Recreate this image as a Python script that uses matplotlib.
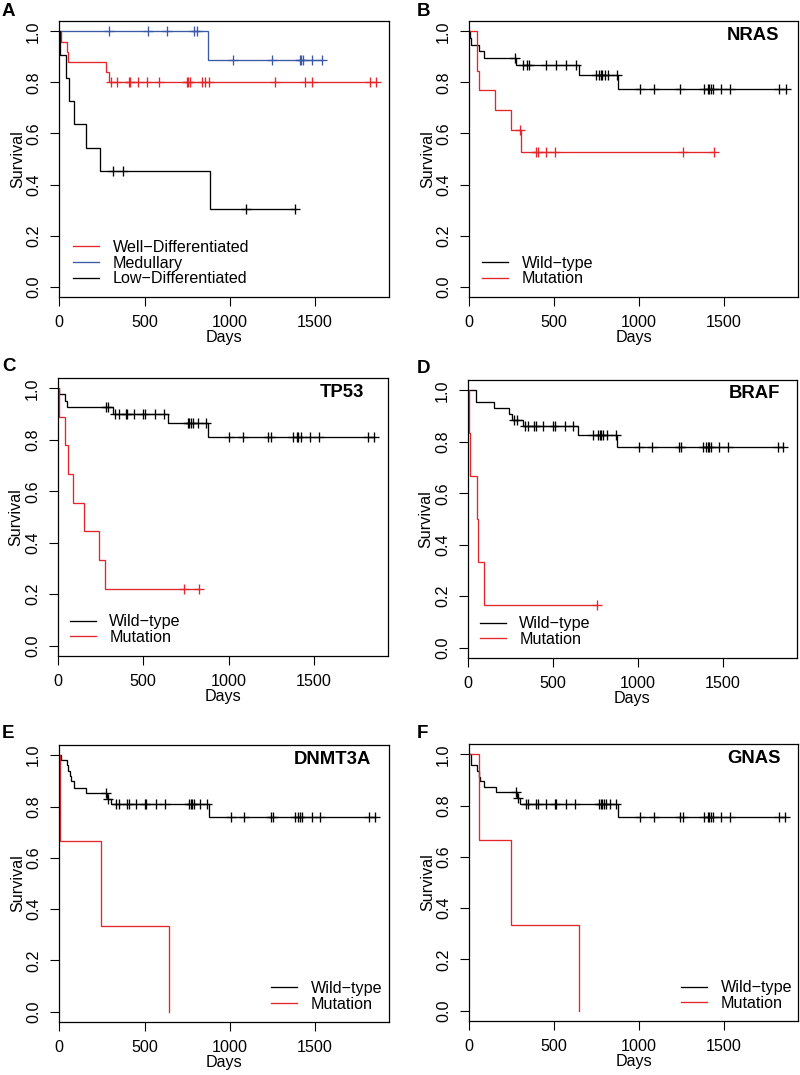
import numpy as np
import matplotlib
matplotlib.use("Agg")
import matplotlib.pyplot as plt
from matplotlib.lines import Line2D

plt.rcParams['font.family'] = ['Liberation Sans', 'DejaVu Sans']

RED = "#e3262b"
BLUE = "#3b5aa6"
BLACK = "#000000"

# ---------------- Panel A ----------------
A_well_t = [0, 8, 43, 52, 272, 291]
A_well_s = [1.0, 0.96, 0.92, 0.88, 0.84, 0.80]
A_well_cens = [303, 340, 407, 414, 463, 512, 582, 751, 757, 764, 835, 855, 878,
               1265, 1441, 1484, 1822, 1855]
A_well_end = 1855

A_med_t = [0, 874]
A_med_s = [1.0, 0.889]
A_med_cens = [291, 522, 633, 792, 806, 1017, 1249, 1411, 1419, 1427, 1484, 1542]
A_med_end = 1542

A_low_t = [0, 4, 39, 57, 86, 156, 237, 886]
A_low_s = [1.0, 0.909, 0.818, 0.727, 0.636, 0.545, 0.455, 0.303]
A_low_cens = [317, 371, 1093, 1384]
A_low_end = 1384

A_labels = ["Well\u2212Differentiated", "Medullary", "Low\u2212Differentiated"]

# ---------------- Panel B (NRAS) ----------------
B_wt_t = [0, 5, 10, 60, 88, 274, 643, 878]
B_wt_s = [1.0, 0.974, 0.947, 0.921, 0.895, 0.868, 0.830, 0.774]
B_wt_cens = [272, 317, 340, 352, 454, 512, 571, 626, 743, 761, 773, 782, 796, 816,
             868, 1007, 1085, 1242, 1379, 1402, 1412, 1422, 1436, 1484, 1535, 1823, 1862]
B_wt_end = 1862
B_mut_t = [0, 45, 59, 151, 245, 303]
B_mut_s = [1.0, 0.846, 0.769, 0.692, 0.615, 0.527]
B_mut_cens = [298, 395, 405, 454, 503, 1260, 1441]
B_mut_end = 1441

# ---------------- Panel C (TP53) ----------------
C_wt_t = [0, 6, 39, 55, 321, 643, 877]
C_wt_s = [1.0, 0.976, 0.951, 0.927, 0.900, 0.864, 0.812]
C_wt_cens = [279, 292, 335, 355, 399, 405, 448, 501, 510, 569, 623, 760, 770, 779,
             789, 822, 867, 1003, 1085, 1233, 1247, 1379, 1399, 1409, 1422, 1475,
             1529, 1816, 1851]
C_wt_end = 1851
C_mut_t = [0, 6, 43, 58, 88, 152, 240, 275]
C_mut_s = [1.0, 0.889, 0.778, 0.667, 0.556, 0.444, 0.333, 0.222]
C_mut_cens = [736, 824]
C_mut_end = 824

# ---------------- Panel D (BRAF) ----------------
D_wt_t = [0, 45, 152, 240, 258, 326, 645, 879]
D_wt_s = [1.0, 0.955, 0.932, 0.909, 0.886, 0.862, 0.828, 0.779]
D_wt_cens = [273, 287, 338, 352, 391, 400, 443, 498, 514, 572, 619, 736, 766, 777,
             785, 795, 820, 869, 1006, 1084, 1240, 1254, 1381, 1400, 1410, 1420,
             1432, 1479, 1533, 1822, 1855]
D_wt_end = 1855
D_mut_t = [0, 4, 10, 53, 60, 92]
D_mut_s = [1.0, 0.833, 0.667, 0.5, 0.333, 0.167]
D_mut_cens = [762]
D_mut_end = 762

# ---------------- Panel E (DNMT3A) ----------------
E_wt_t = [0, 10, 43, 53, 60, 66, 86, 156, 277, 302, 878]
E_wt_s = [1.0, 0.98, 0.96, 0.94, 0.918, 0.898, 0.872, 0.851, 0.830, 0.809, 0.761]
E_wt_cens = [273, 287, 330, 349, 400, 406, 452, 501, 511, 566, 622, 761, 770, 780,
             790, 823, 866, 1004, 1086, 1242, 1256, 1383, 1402, 1412, 1422, 1480,
             1529, 1818, 1851]
E_wt_end = 1851
E_mut_t = [0, 6, 242, 645]
E_mut_s = [1.0, 0.667, 0.333, 0.0]
E_mut_cens = []
E_mut_end = 645

# ---------------- Panel F (GNAS) ----------------
F_wt_t = [0, 8, 47, 55, 66, 86, 156, 278, 301, 878]
F_wt_s = [1.0, 0.958, 0.936, 0.913, 0.894, 0.872, 0.851, 0.829, 0.805, 0.757]
F_wt_cens = [274, 287, 332, 346, 395, 405, 454, 503, 512, 571, 624, 761, 773, 782,
             790, 806, 831, 864, 1007, 1085, 1242, 1256, 1383, 1402, 1412, 1422,
             1436, 1484, 1535, 1823, 1858]
F_wt_end = 1858
F_mut_t = [0, 57, 243, 645]
F_mut_s = [1.0, 0.667, 0.333, 0.0]
F_mut_cens = []
F_mut_end = 645

MUT_LABELS = ["Wild\u2212type", "Mutation"]
X_TICKS = [0, 500, 1000, 1500]
Y_TICKS = [0.0, 0.2, 0.4, 0.6, 0.8, 1.0]
Y_TICKLABELS = ["0.0", "0.2", "0.4", "0.6", "0.8", "1.0"]

FS = 11.6


def km(ax, t, s, cens, end, color):
    t = np.asarray(t, float)
    s = np.asarray(s, float)
    xs = np.r_[t, end]
    ys = np.r_[s, s[-1]]
    ax.step(xs, ys, where='post', color=color, lw=0.95, solid_joinstyle='miter')
    if len(cens):
        c = np.asarray(cens, float)
        idx = np.searchsorted(t, c, side='right') - 1
        ax.plot(c, s[idx], ls='none', marker='+', ms=7.5, mew=0.95, color=color)


def style(ax):
    ax.set_xlim(0, 1935)
    ax.set_ylim(-0.04, 1.04)
    ax.set_xticks(X_TICKS)
    ax.set_xticklabels([str(v) for v in X_TICKS])
    ax.set_yticks(Y_TICKS)
    ax.set_yticklabels(Y_TICKLABELS, rotation=90, va='center')
    ax.tick_params(axis='both', direction='out', length=6.5, width=0.8,
                   labelsize=FS, colors='black')
    ax.tick_params(axis='x', pad=6.5)
    ax.tick_params(axis='y', pad=6.5)
    for sp in ax.spines.values():
        sp.set_linewidth(0.9)
    ax.set_xlabel("Days", fontsize=FS, labelpad=0)
    ax.set_ylabel("Survival", fontsize=FS, labelpad=1)


def legend(ax, labels, colors, loc, anchor):
    handles = [Line2D([], [], color=c, lw=0.95) for c in colors]
    ax.legend(handles, labels, loc=loc, bbox_to_anchor=anchor, frameon=False,
              borderpad=0, borderaxespad=0, handlelength=1.6,
              handletextpad=0.85, labelspacing=0.05, fontsize=FS)


fig = plt.figure(figsize=(8, 10.75), dpi=100)

pos = {
    'A': [0.0741, 0.7237, 0.4125, 0.2567],
    'B': [0.5866, 0.7237, 0.4110, 0.2567],
    'C': [0.0725, 0.3898, 0.4125, 0.2586],
    'D': [0.5850, 0.3879, 0.4110, 0.2586],
    'E': [0.0741, 0.0493, 0.4125, 0.2577],
    'F': [0.5866, 0.0502, 0.4110, 0.2577],
}
axes = {k: fig.add_axes(v) for k, v in pos.items()}

# Panel A
ax = axes['A']
km(ax, A_well_t, A_well_s, A_well_cens, A_well_end, RED)
km(ax, A_med_t, A_med_s, A_med_cens, A_med_end, BLUE)
km(ax, A_low_t, A_low_s, A_low_cens, A_low_end, BLACK)
style(ax)
legend(ax, A_labels, [RED, BLUE, BLACK], 'center left', (0.042, 0.123))

panels = [
    ('B', "NRAS", B_wt_t, B_wt_s, B_wt_cens, B_wt_end, B_mut_t, B_mut_s, B_mut_cens, B_mut_end,
     'center left', (0.040, 0.094), (0.942, 0.949)),
    ('C', "TP53", C_wt_t, C_wt_s, C_wt_cens, C_wt_end, C_mut_t, C_mut_s, C_mut_cens, C_mut_end,
     'center left', (0.036, 0.095), (0.927, 0.946)),
    ('D', "BRAF", D_wt_t, D_wt_s, D_wt_cens, D_wt_end, D_mut_t, D_mut_s, D_mut_cens, D_mut_end,
     'center left', (0.036, 0.095), (0.948, 0.953)),
    ('E', "DNMT3A", E_wt_t, E_wt_s, E_wt_cens, E_wt_end, E_mut_t, E_mut_s, E_mut_cens, E_mut_end,
     'center right', (0.979, 0.092), (0.945, 0.946)),
    ('F', "GNAS", F_wt_t, F_wt_s, F_wt_cens, F_wt_end, F_mut_t, F_mut_s, F_mut_cens, F_mut_end,
     'center right', (0.982, 0.092), (0.948, 0.949)),
]

for (k, gene, wt, ws, wc, we, mt, ms_, mc, me, lloc, lanchor, gpos) in panels:
    ax = axes[k]
    km(ax, wt, ws, wc, we, BLACK)
    km(ax, mt, ms_, mc, me, RED)
    style(ax)
    legend(ax, MUT_LABELS, [BLACK, RED], lloc, lanchor)
    ax.text(gpos[0], gpos[1], gene, transform=ax.transAxes, ha='right', va='center',
            fontsize=13.3, fontweight='bold')

# Panel letters
letters = {'A': (2, 3), 'B': (417, 3), 'C': (2, 358), 'D': (417, 360),
           'E': (2, 725), 'F': (417, 725)}
for k, (px, py) in letters.items():
    fig.text(px / 800, 1 - py / 1075, k, ha='left', va='top', fontsize=13.5,
             fontweight='bold')

fig.savefig("out.png", dpi=100)
